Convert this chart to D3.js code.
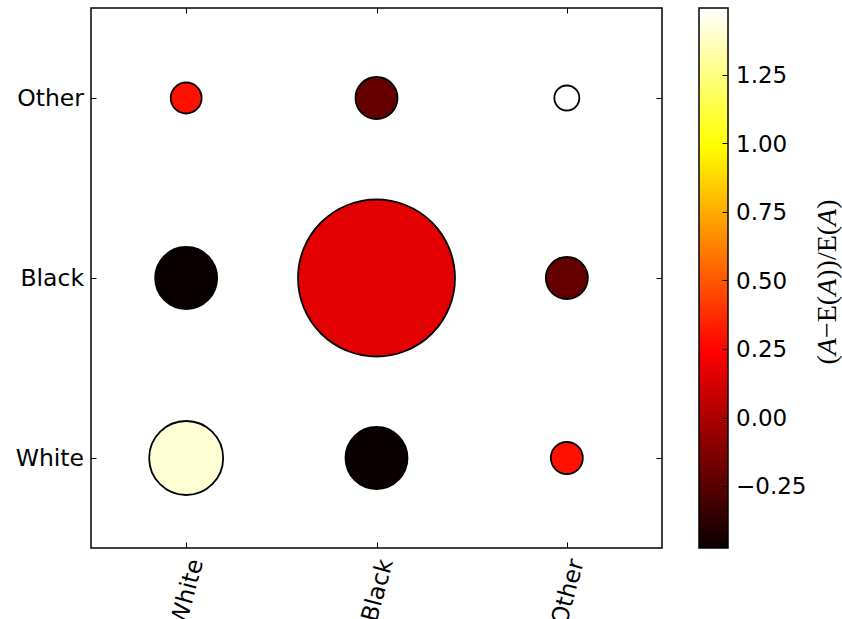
<!DOCTYPE html>
<html>
<head>
<meta charset="utf-8">
<script src="https://d3js.org/d3.v7.min.js"></script>
<style>
  html, body { margin: 0; padding: 0; background: #fff; }
  svg { display: block; }
</style>
</head>
<body>
<script>
// ---------------- data ----------------
const categories = ["White", "Black", "Other"];
// rows = y category, columns = x category
const counts = [
  [1369, 961, 256],   // y = White
  [961, 6162, 441],   // y = Black
  [240, 441, 156]     // y = Other
];
const ratios = [
  [1.413, -0.476, 0.29],
  [-0.476, 0.16, -0.21],
  [0.29, -0.21, 1.494]
];
const colorbarTicks = [-0.25, 0, 0.25, 0.5, 0.75, 1.0, 1.25];

// ---------------- layout ----------------
const W = 842, H = 619;
const ax = { left: 91, right: 662, top: 8, bottom: 548 };
const cb = { left: 699, right: 728, top: 8, bottom: 548 };
const FONT = "'DejaVu Sans', sans-serif";
const FS = 23;

const svg = d3.select("body").append("svg").attr("width", W).attr("height", H);

const x = d3.scaleLinear().domain([-0.5, 2.5]).range([ax.left, ax.right]);
const y = d3.scaleLinear().domain([-0.5, 2.5]).range([ax.bottom, ax.top]);

const allCounts = counts.flat();
const allRatios = ratios.flat();
const r = d3.scaleSqrt().domain([0, d3.max(allCounts)]).range([0, 78.5]);
const [vmin, vmax] = d3.extent(allRatios);

function hot(t) {
  t = Math.max(0, Math.min(1, t));
  const rr = t < 0.365079 ? 0.0416 + (1 - 0.0416) * t / 0.365079 : 1;
  const gg = t < 0.365079 ? 0 : (t < 0.746032 ? (t - 0.365079) / (0.746032 - 0.365079) : 1);
  const bb = t < 0.746032 ? 0 : (t - 0.746032) / (1 - 0.746032);
  return d3.rgb(rr * 255, gg * 255, bb * 255).toString();
}
const color = v => hot((v - vmin) / (vmax - vmin));

// ---------------- points ----------------
const pts = [];
categories.forEach((yc, i) => categories.forEach((xc, j) => {
  pts.push({ xi: j, yi: i, n: counts[i][j], v: ratios[i][j] });
}));
pts.sort((a, b) => b.n - a.n);

svg.append("g").selectAll("circle").data(pts).join("circle")
  .attr("cx", d => x(d.xi))
  .attr("cy", d => y(d.yi))
  .attr("r", d => r(d.n))
  .attr("fill", d => color(d.v))
  .attr("stroke", "#000")
  .attr("stroke-width", 1.8);

// ---------------- axes frame & ticks ----------------
const TL = 5.5;
const idx = d3.range(categories.length);
const tickG = svg.append("g").attr("stroke", "#000").attr("stroke-width", 1);
idx.forEach(k => {
  const px = Math.round(x(k)) + 0.5, py = Math.round(y(k)) + 0.5;
  tickG.append("line").attr("x1", px).attr("x2", px).attr("y1", ax.bottom).attr("y2", ax.bottom - TL);
  tickG.append("line").attr("x1", px).attr("x2", px).attr("y1", ax.top).attr("y2", ax.top + TL);
  tickG.append("line").attr("y1", py).attr("y2", py).attr("x1", ax.left).attr("x2", ax.left + TL);
  tickG.append("line").attr("y1", py).attr("y2", py).attr("x1", ax.right).attr("x2", ax.right - TL);
});
svg.append("rect")
  .attr("x", ax.left).attr("y", ax.top)
  .attr("width", ax.right - ax.left).attr("height", ax.bottom - ax.top)
  .attr("fill", "none").attr("stroke", "#000").attr("stroke-width", 1.5);

// y tick labels
svg.append("g").selectAll("text").data(categories).join("text")
  .attr("x", ax.left - 7)
  .attr("y", (d, i) => y(i))
  .attr("dy", "0.36em")
  .attr("text-anchor", "end")
  .attr("font-family", FONT).attr("font-size", FS + 0.5)
  .attr("fill", "#000")
  .text(d => d);

// x tick labels, rotated 75 deg, bbox centered under tick
const theta = 75 * Math.PI / 180;
const xl = svg.append("g").selectAll("text").data(categories).join("text")
  .attr("font-family", FONT).attr("font-size", FS + 0.5)
  .attr("text-anchor", "end")
  .attr("dy", "0.36em")
  .attr("fill", "#000")
  .text(d => d);
xl.each(function (d, i) {
  const w = this.getComputedTextLength();
  const h = FS * 1.16;
  const axp = x(i) + w * Math.cos(theta) / 2;
  const ayp = ax.bottom + 8 + (h / 2) * Math.cos(theta);
  d3.select(this).attr("transform", `translate(${axp},${ayp}) rotate(-75)`);
});

// ---------------- colorbar ----------------
const cy = d3.scaleLinear().domain([vmin, vmax]).range([cb.bottom, cb.top]);
const defs = svg.append("defs");
const grad = defs.append("linearGradient").attr("id", "hotgrad")
  .attr("x1", 0).attr("y1", 1).attr("x2", 0).attr("y2", 0);
d3.range(0, 1.0001, 0.02).forEach(t => {
  grad.append("stop").attr("offset", t).attr("stop-color", hot(t));
});
svg.append("rect")
  .attr("x", cb.left).attr("y", cb.top)
  .attr("width", cb.right - cb.left).attr("height", cb.bottom - cb.top)
  .attr("fill", "url(#hotgrad)");
const cbt = svg.append("g");
colorbarTicks.forEach(v => {
  const py = Math.round(cy(v)) + 0.5;
  cbt.append("line").attr("x1", cb.right).attr("x2", cb.right - TL)
    .attr("y1", py).attr("y2", py).attr("stroke", "#000").attr("stroke-width", 1);
  cbt.append("text")
    .attr("x", cb.right + 8).attr("y", cy(v)).attr("dy", "0.36em")
    .attr("font-family", FONT).attr("font-size", FS).attr("fill", "#000")
    .text(d3.format(".2f")(v).replace("-", "\u2212"));
});
svg.append("rect")
  .attr("x", cb.left).attr("y", cb.top)
  .attr("width", cb.right - cb.left).attr("height", cb.bottom - cb.top)
  .attr("fill", "none").attr("stroke", "#000").attr("stroke-width", 1.5);

// colorbar label (math style)
const lab = svg.append("text")
  .attr("transform", `translate(836,${(cb.top + cb.bottom) / 2 + 4}) rotate(-90)`)
  .attr("text-anchor", "middle")
  .attr("font-family", "'Liberation Serif', 'DejaVu Serif', serif")
  .attr("font-size", 28)
  .attr("fill", "#000");
const parts = [["(", 0], ["A", 1], ["\u2212", 0], ["E(", 0], ["A", 1], ["))/E(", 0], ["A", 1], [")", 0]];
parts.forEach(([t, it]) => {
  lab.append("tspan").attr("font-style", it ? "italic" : "normal").text(t);
});
</script>
</body>
</html>
